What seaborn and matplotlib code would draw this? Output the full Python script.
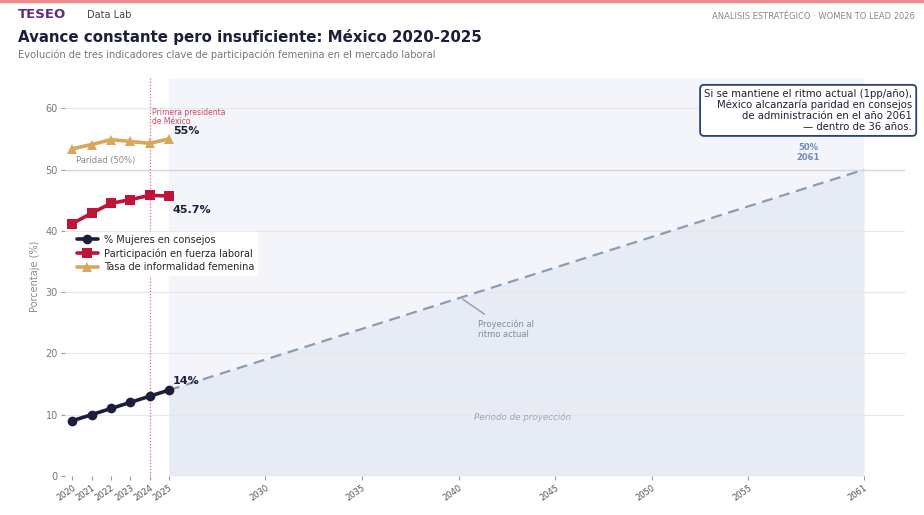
import matplotlib
matplotlib.use("Agg")
import matplotlib.pyplot as plt
import numpy as np
import pandas as pd
import seaborn as sns

# --- data ---------------------------------------------------------------
years = [2020, 2021, 2022, 2023, 2024, 2025]
consejos = [9.0, 10.0, 11.0, 12.0, 13.0, 14.0]
fuerza_laboral = [41.2, 42.9, 44.5, 45.1, 45.8, 45.7]
informalidad = [53.4, 54.1, 54.9, 54.6, 54.3, 55.0]

series_names = ["% Mujeres en consejos",
                "Participación en fuerza laboral",
                "Tasa de informalidad femenina"]
series_colors = ["#1b1f3b", "#c0133a", "#d9a65c"]
series_markers = ["o", "s", "^"]

proj_years = [2025, 2061]
proj_values = [14.0, 50.0]
parity_level = 50
president_year = 2024
x_ticks = [2020, 2021, 2022, 2023, 2024, 2025, 2030, 2035, 2040, 2045, 2050, 2055, 2061]

df = pd.DataFrame({
    "Año": years * 3,
    "Valor": consejos + fuerza_laboral + informalidad,
    "Serie": [s for s in series_names for _ in years],
})

# --- figure -------------------------------------------------------------
sns.set_theme(style="white")
plt.rcParams["font.family"] = ["DejaVu Sans"]

fig = plt.figure(figsize=(9.24, 5.15), dpi=100)
ax = fig.add_axes([0.070, 0.076, 0.909, 0.773])

# projection period background
ax.axvspan(proj_years[0], proj_years[1], ymin=0, ymax=1, color="#f3f5fa", zorder=0, lw=0)
ax.fill_between(proj_years, [0, 0], proj_values, color="#e7ebf3", zorder=0.5, lw=0)

# horizontal grid
for yv in range(0, 70, 10):
    ax.axhline(yv, color="#e6e6ea", lw=0.8, zorder=0.6)

# parity line
ax.axhline(parity_level, color="#d8d8dc", lw=1.0, zorder=0.7)
ax.text(2020.2, parity_level + 0.7, "Paridad (50%)", fontsize=6, color="#8a8a8a",
        ha="left", va="bottom")

# first female president marker
ax.axvline(president_year, color="#d47080", lw=0.9, ls=(0, (1, 1.5)), zorder=1)
ax.text(president_year + 0.1, 60.0, "Primera presidenta\nde México", fontsize=5.5,
        color="#c94a60", ha="left", va="top", linespacing=1.0)

# projection line
ax.plot(proj_years, proj_values, color="#8e9bb5", lw=1.6, ls=(0, (5, 3)), zorder=2)

sns.lineplot(data=df, x="Año", y="Valor", hue="Serie", style="Serie",
             hue_order=series_names, style_order=series_names,
             palette=dict(zip(series_names, series_colors)),
             markers=dict(zip(series_names, series_markers)),
             dashes=False, lw=2.6, markersize=7, markeredgewidth=0,
             ax=ax, zorder=3)

# value labels
ax.text(2025.2, consejos[-1] + 0.6, f"{consejos[-1]:.0f}%", fontsize=8,
        fontweight="bold", color="#1b1f3b", ha="left", va="bottom")
ax.text(2025.2, fuerza_laboral[-1] - 1.4, f"{fuerza_laboral[-1]}%", fontsize=8,
        fontweight="bold", color="#1b1f3b", ha="left", va="top")
ax.text(2025.2, informalidad[-1] + 0.5, f"{informalidad[-1]:.0f}%", fontsize=8,
        fontweight="bold", color="#1b1f3b", ha="left", va="bottom")

# projection annotations
ax.annotate("Proyección al\nritmo actual", xy=(2040.1, 29.1), xytext=(2041.0, 25.6),
            fontsize=6, color="#7f8aa3", ha="left", va="top",
            arrowprops=dict(arrowstyle="-", color="#8e9bb5", lw=1.0))
ax.text(2043.3, 9.5, "Periodo de proyección", fontsize=6.3, color="#a0a5b5",
        style="italic", ha="center", va="center")
ax.text(2058.1, 51.3, f"{proj_values[-1]:.0f}%\n{proj_years[-1]}", fontsize=6,
        fontweight="bold", color="#6f88b8", ha="center", va="bottom", linespacing=1.1)

ax.text(1.009, 0.972,
        "Si se mantiene el ritmo actual (1pp/año),\n"
        "México alcanzaría paridad en consejos\n"
        "de administración en el año 2061\n"
        "— dentro de 36 años.",
        transform=ax.transAxes, fontsize=7.3, color="#1b1f3b", ha="right", va="top",
        linespacing=1.1,
        bbox=dict(boxstyle="round,pad=0.4", fc="white", ec="#2c3f78", lw=1.3))

# axes styling
ax.set_xlim(2019.6, 2063.1)
ax.set_ylim(0, 65)
ax.set_xticks(x_ticks)
ax.set_xticklabels([str(t) for t in x_ticks], rotation=35, ha="right",
                   rotation_mode="anchor", fontsize=6, color="#555555")
ax.set_yticks(range(0, 70, 10))
ax.set_yticklabels([str(v) for v in range(0, 70, 10)], fontsize=7, color="#777777")
ax.tick_params(axis="both", which="both", length=3, width=0.8, color="#999999",
               bottom=True, left=True, pad=2)
ax.set_xlabel("")
ax.set_ylabel("Porcentaje (%)", fontsize=7, color="#8a8a8a", labelpad=4)
for sp in ax.spines.values():
    sp.set_visible(False)

leg = ax.legend(loc="upper left", bbox_to_anchor=(0.005, 0.625), frameon=True,
                fontsize=7, handlelength=2.2, borderpad=0.3, labelspacing=0.35,
                handletextpad=0.6)
leg.get_frame().set_facecolor("white")
leg.get_frame().set_edgecolor("white")
leg.get_frame().set_alpha(1.0)

# header
fig.add_artist(plt.Line2D([0, 1], [0.998, 0.998], color="#f08a8a", lw=2.5,
                          transform=fig.transFigure))
fig.text(0.019, 0.972, "TESEO", fontsize=9.5, fontweight="bold", color="#5a2d8c",
         ha="left", va="center")
fig.text(0.094, 0.970, "Data Lab", fontsize=7, color="#444444", ha="left", va="center")
fig.text(0.990, 0.968, "ANALISIS ESTRATÉGICO · WOMEN TO LEAD 2026", fontsize=6,
         color="#888888", ha="right", va="center")
fig.text(0.019, 0.929, "Avance constante pero insuficiente: México 2020-2025",
         fontsize=10.8, fontweight="bold", color="#1b1f3b", ha="left", va="center")
fig.text(0.019, 0.893,
         "Evolución de tres indicadores clave de participación femenina en el mercado laboral",
         fontsize=7.1, color="#777777", ha="left", va="center")

fig.savefig("out.png", dpi=100, facecolor="white")
